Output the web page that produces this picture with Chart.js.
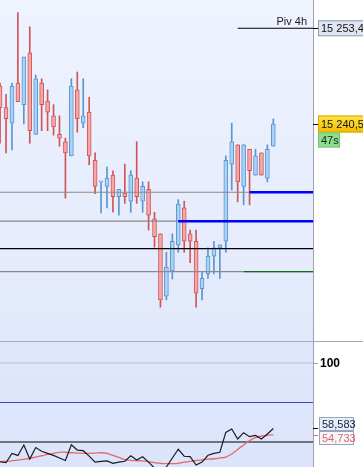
<!DOCTYPE html>
<html>
<head>
<meta charset="utf-8">
<script src="https://cdn.jsdelivr.net/npm/chart.js@4.4.1/dist/chart.umd.min.js"></script>
<style>
    html, body { margin: 0; padding: 0; background: #ffffff; }
    #wrap { position: relative; width: 363px; height: 467px; overflow: hidden; }
    #priceChart { position: absolute; left: 0; top: 0; }
    #oscChart { position: absolute; left: 0; top: 341px; }
</style>
</head>
<body>
<div id="wrap">
    <canvas id="priceChart" width="363" height="341"></canvas>
    <canvas id="oscChart" width="363" height="126"></canvas>
</div>
<script>

// candles, oldest first
const opens = [15245.6, 15242.7, 15240.6, 15246.0, 15243.1, 15250.1, 15239.1, 15246.0, 15243.6, 15241.6,
    15239.1, 15238.1, 15236.2, 15245.1, 15240.6, 15242.1, 15235.6, 15232.7, 15232.1, 15233.6,
    15230.7, 15231.2, 15230.1, 15233.2, 15230.1, 15231.7, 15227.7, 15225.7, 15217.3, 15220.7,
    15224.2, 15229.2, 15225.7, 15224.7, 15218.3, 15220.3, 15222.7, 15223.8, 15224.7, 15235.1,
    15237.7, 15232.1, 15237.1, 15233.6, 15236.6, 15233.2, 15237.5];

const highs = [15246.0, 15244.5, 15246.0, 15255.5, 15249.5, 15253.6, 15247.1, 15246.6, 15245.1, 15243.1,
    15241.6, 15238.6, 15246.6, 15247.5, 15246.6, 15244.1, 15236.6, 15232.7, 15234.7, 15234.2,
    15231.7, 15235.1, 15234.2, 15238.1, 15232.7, 15232.7, 15228.6, 15225.7, 15223.2, 15225.7,
    15230.3, 15230.1, 15226.2, 15226.2, 15220.5, 15223.8, 15224.7, 15224.2, 15236.2, 15240.6,
    15237.7, 15237.7, 15237.1, 15237.1, 15236.6, 15237.7, 15241.2];

const lows = [15237.9, 15236.6, 15237.0, 15243.5, 15240.5, 15237.9, 15239.1, 15239.6, 15239.6, 15239.0,
    15237.5, 15230.5, 15236.2, 15239.4, 15240.0, 15235.0, 15231.1, 15228.5, 15229.2, 15228.6,
    15228.2, 15229.8, 15228.6, 15229.8, 15228.6, 15226.2, 15223.9, 15215.8, 15216.8, 15219.6,
    15223.2, 15223.2, 15221.8, 15215.8, 15216.8, 15219.7, 15220.3, 15219.7, 15223.2, 15231.6,
    15230.0, 15229.6, 15229.6, 15233.6, 15233.6, 15232.7, 15237.5];

const closes = [15242.7, 15241.2, 15245.6, 15243.5, 15249.5, 15239.6, 15246.6, 15243.1, 15242.1, 15240.1,
    15238.6, 15236.6, 15245.6, 15241.2, 15241.6, 15236.2, 15232.1, 15232.7, 15233.2, 15230.7,
    15231.7, 15230.7, 15233.6, 15230.7, 15232.1, 15228.2, 15225.3, 15216.8, 15221.2, 15224.7,
    15229.7, 15224.7, 15224.7, 15217.7, 15219.7, 15222.7, 15223.8, 15224.2, 15235.6, 15238.1,
    15232.7, 15237.7, 15234.2, 15236.2, 15233.6, 15237.1, 15240.5];

// oscillator (%K black, %D red)
const stochK = [37.5, 36.9, 42.8, 41.5, 48.1, 39.2, 46.5, 44.1, 42.8, 41.5,
    39.9, 38.3, 48.3, 44.9, 44.5, 41.1, 37.3, 37.7, 38.0, 36.5,
    37.3, 37.8, 41.3, 38.6, 40.7, 37.3, 33.5, 31.0, 34.2, 39.9,
    45.4, 41.0, 40.7, 35.4, 37.3, 41.6, 42.8, 43.5, 56.1, 58.2,
    51.9, 55.9, 53.4, 54.2, 51.9, 55.1, 58.583];

const stochD = [37.5, 37.8, 38.1, 38.5, 39.1, 39.7, 40.5, 41.3, 42.1, 42.8,
    43.5, 43.5, 43.2, 43.0, 42.8, 42.8, 43.0, 43.2, 42.8, 41.5,
    40.2, 38.9, 38.4, 38.2, 38.0, 37.5, 37.0, 36.5, 36.3, 36.3,
    36.5, 37.2, 37.8, 38.3, 38.7, 39.1, 39.4, 39.9, 40.5, 42.4,
    45.3, 48.1, 50.9, 52.8, 53.8, 54.2, 54.733];

// horizontal levels
const levelPrices = [15231.3, 15227.4, 15223.7, 15220.6];
const zonePrices = [15231.3, 15227.4];
const zoneStarts = [42, 30];
const greenPrice = 15220.6;
const greenStart = 41;
const pivotName = "Piv 4h";
const pivotPrice = 15253.4;
const pivotStart = 40;
const timerText = "47s";
const oscLevels = [100, 75, 50];

// visible window (candle index units)
const xMin = -0.012;
const xMax = 52.68;

const LABEL_FONT = '11px "Liberation Sans", Arial, sans-serif';

const UP_FILL = "#a9d3f6";
const UP_LINE = "#5b95d0";
const DOWN_FILL = "#f6a8a8";
const DOWN_LINE = "#d05656";


function fmtPrice(v) {
    const parts = v.toFixed(1).split(".");
    return parts[0].replace(/\B(?=(\d{3})+(?!\d))/g, " ") + "," + parts[1];
}

// higher order is painted first
function levelLine(price, from, color, width, order) {
    return {
        type: "line",
        data: [{ x: from, y: price }, { x: xMax, y: price }],
        borderColor: color,
        borderWidth: width,
        pointRadius: 0,
        order: order
    };
}

function drawTag(ctx, x, yc, w, h, fill, stroke, text, color) {
    ctx.fillStyle = fill;
    ctx.fillRect(x, yc - h / 2, w, h);
    ctx.strokeStyle = stroke;
    ctx.lineWidth = 1;
    ctx.strokeRect(x + 0.5, yc - h / 2 + 0.5, w - 1, h - 1);
    ctx.fillStyle = color;
    ctx.textAlign = "left";
    ctx.textBaseline = "middle";
    ctx.fillText(text, x + 3, yc + 0.5);
}

function tick(ctx, x, yv, color) {
    ctx.strokeStyle = color;
    ctx.lineWidth = 1;
    ctx.beginPath();
    ctx.moveTo(x, Math.round(yv) + 0.5);
    ctx.lineTo(x + 5, Math.round(yv) + 0.5);
    ctx.stroke();
}


const panelBackground = {
    id: "panelBackground",
    beforeDraw(chart, args, opts) {
        const { ctx, chartArea: a } = chart;
        const g = ctx.createLinearGradient(0, 0, 0, chart.height);
        g.addColorStop(0, opts.top);
        g.addColorStop(1, opts.bottom);
        ctx.save();
        ctx.fillStyle = g;
        ctx.fillRect(a.left, 0, a.right - a.left, chart.height);
        ctx.restore();
    }
};

const priceAxis = {
    id: "priceAxis",
    afterDraw(chart) {
        const { ctx, chartArea: a, scales: { y } } = chart;
        const r = a.right;

        ctx.save();
        ctx.strokeStyle = "#9ba3af";
        ctx.lineWidth = 1;
        ctx.beginPath();
        ctx.moveTo(r + 0.5, 0);
        ctx.lineTo(r + 0.5, chart.height);
        ctx.stroke();

        ctx.font = LABEL_FONT;

        // pivot label
        const py = y.getPixelForValue(pivotPrice);
        tick(ctx, r, py, "#000000");
        ctx.fillStyle = "#1a1a1a";
        ctx.textAlign = "right";
        ctx.textBaseline = "alphabetic";
        ctx.fillText(pivotName, r - 6, py - 3);
        drawTag(ctx, r + 5, py, 46, 16, "#dfe6f1", "#8e9cb2", fmtPrice(pivotPrice), "#111111");

        // last price + timer
        const last = closes[closes.length - 1];
        const ly = Math.round(y.getPixelForValue(last));
        tick(ctx, r, ly, "#000000");
        const g = ctx.createLinearGradient(0, ly - 8, 0, ly + 8);
        g.addColorStop(0, "#ffe444");
        g.addColorStop(1, "#f3bd00");
        drawTag(ctx, r + 5, ly, 46, 17, g, "#d9a500", fmtPrice(last), "#111111");
        drawTag(ctx, r + 5, ly + 16, 22, 15, "#8fdc8f", "#74c474", timerText, "#0c2a0c");
        ctx.restore();
    }
};

const oscAxis = {
    id: "oscAxis",
    afterDraw(chart) {
        const { ctx, chartArea: a, scales: { y } } = chart;
        const r = a.right;

        ctx.save();
        ctx.strokeStyle = "#a6adb9";
        ctx.lineWidth = 1;
        ctx.beginPath();
        ctx.moveTo(0, 0.5);
        ctx.lineTo(chart.width, 0.5);
        ctx.stroke();

        ctx.strokeStyle = "#9ba3af";
        ctx.beginPath();
        ctx.moveTo(r + 0.5, 0);
        ctx.lineTo(r + 0.5, chart.height);
        ctx.stroke();

        // 100 label
        const hy = y.getPixelForValue(oscLevels[0]);
        tick(ctx, r, hy, "#9ba3af");
        ctx.font = 'bold 12px "Liberation Sans", Arial, sans-serif';
        ctx.fillStyle = "#000000";
        ctx.textAlign = "left";
        ctx.textBaseline = "middle";
        ctx.fillText(String(oscLevels[0]), r + 7, hy + 0.5);

        // current values, tags pushed apart
        const kv = stochK[stochK.length - 1];
        const dv = stochD[stochD.length - 1];
        const ky = y.getPixelForValue(kv);
        const dy = y.getPixelForValue(dv);
        tick(ctx, r, ky, "#000000");
        tick(ctx, r, dy, "#e06666");
        const mid = Math.round((ky + dy) / 2);
        ctx.font = LABEL_FONT;
        drawTag(ctx, r + 6, mid - 7, 35, 14, "#e8eef9", "#98a4b7", kv.toFixed(3).replace(".", ","), "#14213d");
        drawTag(ctx, r + 6, mid + 7, 35, 14, "#f3f6fb", "#98a4b7", dv.toFixed(3).replace(".", ","), "#e26666");
        ctx.restore();
    }
};


function buildPriceChart() {

    const idx = closes.map((_, i) => i);
    const up = idx.map(i => closes[i] >= opens[i]);

    const datasets = [];

    levelPrices.forEach((p, i) => {
        const color = i === 2 ? "#000000" : "#8a8a8a";
        datasets.push(levelLine(p, xMin, color, 1.2, 3));
    });
    zonePrices.forEach((p, i) => datasets.push(levelLine(p, zoneStarts[i], "#0000ff", 2.4, 1)));
    datasets.push(levelLine(greenPrice, greenStart, "#0b6e14", 1.4, 1));
    datasets.push(levelLine(pivotPrice, pivotStart, "#000000", 1.2, 1));

    // wicks
    datasets.push({
        type: "bar",
        data: idx.map(i => ({ x: i, y: [lows[i], highs[i]] })),
        backgroundColor: up.map(u => u ? UP_LINE : DOWN_LINE),
        borderWidth: 0,
        barThickness: 1,
        grouped: false,
        order: 6
    });

    // bodies
    datasets.push({
        type: "bar",
        data: idx.map(i => ({ x: i, y: [opens[i], closes[i]] })),
        backgroundColor: up.map(u => u ? UP_FILL : DOWN_FILL),
        borderColor: up.map(u => u ? UP_LINE : DOWN_LINE),
        borderWidth: 1,
        borderSkipped: false,
        barThickness: 4,
        minBarLength: 1,
        grouped: false,
        order: 5
    });

    new Chart(document.getElementById("priceChart"), {
        type: "bar",
        data: { datasets },
        plugins: [panelBackground, priceAxis],
        options: {
            responsive: false,
            animation: false,
            events: [],
            layout: { padding: { left: 0, right: 50, top: 0, bottom: 0 } },
            plugins: {
                legend: { display: false },
                tooltip: { enabled: false },
                panelBackground: { top: "#eff3fe", bottom: "#e2e9fc" }
            },
            scales: {
                x: { type: "linear", min: xMin, max: xMax, offset: false, display: false },
                y: { min: 15211.25, max: 15257.21, display: false }
            }
        }
    });

}

function buildOscChart() {

    const datasets = [];

    const levelColors = ["#b6bfd6", "#3a47c6", "#000000"];
    oscLevels.forEach((v, i) => datasets.push(levelLine(v, xMin, levelColors[i], 1.2, 3)));

    datasets.push({
        type: "line",
        data: stochD.map((v, i) => ({ x: i, y: v })),
        borderColor: "#e46a6a",
        borderWidth: 1.3,
        pointRadius: 0,
        tension: 0.4,
        order: 2
    });

    datasets.push({
        type: "line",
        data: stochK.map((v, i) => ({ x: i, y: v })),
        borderColor: "#1c1c1c",
        borderWidth: 1.2,
        pointRadius: 0,
        tension: 0,
        order: 1
    });

    new Chart(document.getElementById("oscChart"), {
        type: "line",
        data: { datasets },
        plugins: [panelBackground, oscAxis],
        options: {
            responsive: false,
            animation: false,
            events: [],
            layout: { padding: { left: 0, right: 50, top: 0, bottom: 0 } },
            plugins: {
                legend: { display: false },
                tooltip: { enabled: false },
                panelBackground: { top: "#dfe7fc", bottom: "#dbe4fb" }
            },
            scales: {
                x: { type: "linear", min: xMin, max: xMax, offset: false, display: false },
                y: { min: 34.18, max: 113.92, display: false }
            }
        }
    });

}

buildPriceChart();
buildOscChart();

</script>
</body>
</html>
